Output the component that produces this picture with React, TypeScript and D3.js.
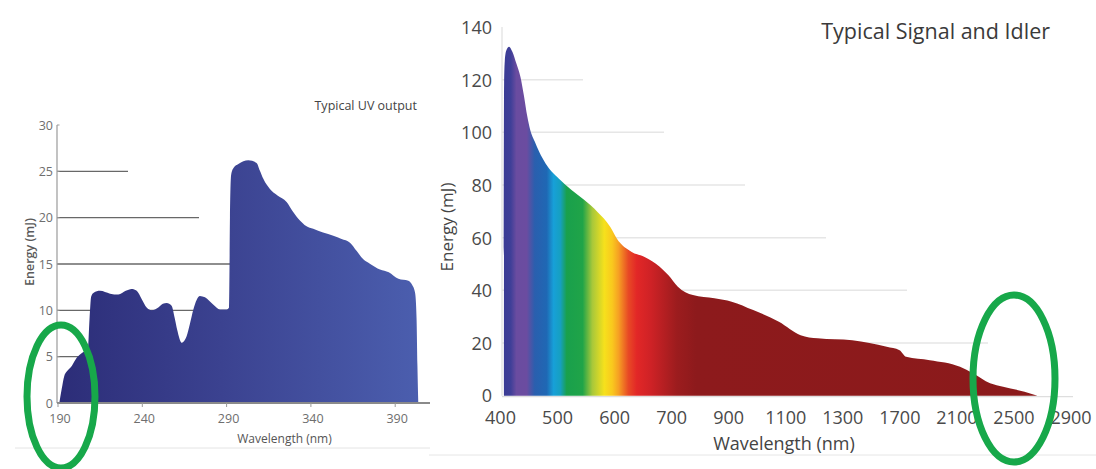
import React from 'react';
import * as d3 from 'd3';

// ---------- Left chart: Typical UV output ----------
const uvWavelength = [
  189.6, 191, 192.5, 194, 197, 200, 203, 206.5, 207.5, 208.5, 210, 213.7, 219.7, 224.6, 229, 232.5,
  235.5, 238.5, 241.4, 244.4, 248.3, 251, 253.3, 256.2, 258, 259.5, 262.2, 265.1, 267, 269.1, 273,
  276, 281, 284.9, 288.9, 290.3, 290.8, 291.5, 293, 295.8, 301.7, 306.6, 308.5, 310.6, 314.5, 319,
  324.4, 328, 332.3, 336, 340.2, 346, 352.1, 357, 362, 366, 369.9, 374, 379.8, 385, 390.7, 396.6,
  399, 400.6, 401.5, 402, 402.5,
];
const uvEnergy = [
  0, 1.5, 2.9, 3.4, 4.0, 4.9, 5.4, 5.8, 9, 11.5, 11.9, 12.1, 11.8, 11.7, 12.1, 12.3,
  12.1, 11.2, 10.3, 10.0, 10.3, 10.7, 10.8, 10.5, 9.2, 7.9, 6.5, 7.2, 8.5, 10.1, 11.55,
  11.4, 10.6, 10.1, 10.1, 10.3, 20, 24.6, 25.4, 25.8, 26.2, 25.9, 25.1, 24.2, 23.1, 22.4,
  21.7, 20.7, 19.7, 19.1, 18.8, 18.4, 18.05, 17.7, 17.3, 16.4, 15.5, 15.0, 14.4, 14.1, 13.4, 13.2,
  12.7, 11.9, 9, 4, 0,
];
const uvYTicks = [0, 5, 10, 15, 20, 25, 30];
const uvXTicks = [190, 240, 290, 340, 390];

// ---------- Right chart: Typical Signal and Idler ----------
const sigWavelength = [
  406, 406.3, 407.5, 410, 415, 421, 428, 435, 441, 447, 452, 460, 468, 479, 490, 502, 524.5, 547,
  570, 592.5, 603.8, 630, 652.6, 679, 694, 721.7, 774.6, 850, 910.5, 986, 1076, 1152, 1212, 1366.5,
  1608, 1698, 1744, 1910, 2122, 2212, 2333, 2424, 2574, 2665,
];
const sigEnergy = [
  0, 118, 127, 131, 132.5, 130.5, 126, 121, 114, 106, 101, 96.5, 92.5, 88.2, 85, 82.5, 78.1, 74.3,
  69.8, 64.1, 59.7, 54.6, 52.7, 49, 45.8, 41.4, 38.2, 37, 35.7, 32.5, 28.1, 23, 21.8, 21.1,
  18.6, 17.3, 14.8, 13.5, 11, 8.5, 4.7, 3.4, 1.5, 0,
];
const sigYTicks = [0, 20, 40, 60, 80, 100, 120, 140];
const sigXTicks = [400, 500, 600, 700, 900, 1100, 1300, 1700, 2100, 2500, 2900];

// spectrum colour stops (wavelength -> colour)
const spectrumWavelength = [404, 418, 428, 446, 460, 481, 493, 505, 516, 544, 561, 582, 596, 607, 624, 639, 663, 718, 786, 2700];
const spectrumColor = [
  '#3a3b94', '#3f3f98', '#6a4ca0', '#6b4ca0', '#2a5fae', '#1f68b4', '#17a0d8', '#16a0c0', '#19a04c',
  '#20a448', '#a8c83a', '#f6e11c', '#f9c81e', '#f6a023', '#e84a25', '#e22727', '#cf2226', '#9c1c1e',
  '#8d1a1c', '#8b1a1b',
];

const FONT = "'Open Sans', 'Noto Sans', sans-serif";

export default function App() {
  // left scales
  const xU = d3.scaleLinear().domain([190, 390]).range([60, 397.2]);
  const yU = d3.scaleLinear().domain([0, 30]).range([403, 125]);
  const uvArea = d3
    .area<number>()
    .x((_, i) => xU(uvWavelength[i]))
    .y0(yU(0))
    .y1((d) => yU(d))
    .curve(d3.curveMonotoneX);

  // right scales (piecewise, equally spaced labels)
  const xS = d3
    .scaleLinear()
    .domain(sigXTicks)
    .range(sigXTicks.map((_, i) => 500.5 + i * 57.05));
  const yS = d3.scaleLinear().domain([0, 140]).range([395.7, 27]);
  const sigArea = d3
    .area<number>()
    .x((_, i) => xS(sigWavelength[i]))
    .y0(yS(0))
    .y1((d) => yS(d))
    .curve(d3.curveMonotoneX);

  const gx0 = xS(spectrumWavelength[0]);
  const gx1 = xS(spectrumWavelength[spectrumWavelength.length - 1]);

  const uvAxisX = 57;
  const sigAxisX = 502;

  return (
    <svg
      width={1096}
      height={469}
      style={{ position: 'absolute', left: 0, top: 0, background: '#fff' }}
      fontFamily={FONT}
    >
      <defs>
        <linearGradient id="uvGrad" gradientUnits="userSpaceOnUse" x1={xU(190)} x2={xU(402)} y1={0} y2={0}>
          <stop offset="0" stopColor="#2c2d78" />
          <stop offset="0.45" stopColor="#3b4290" />
          <stop offset="1" stopColor="#4b5eae" />
        </linearGradient>
        <linearGradient id="specGrad" gradientUnits="userSpaceOnUse" x1={gx0} x2={gx1} y1={0} y2={0}>
          {spectrumWavelength.map((w, i) => (
            <stop key={i} offset={(xS(w) - gx0) / (gx1 - gx0)} stopColor={spectrumColor[i]} />
          ))}
        </linearGradient>
      </defs>

      {/* ================= LEFT CHART ================= */}
      {uvYTicks
        .filter((t) => t > 0 && t < 30)
        .map((t) => (
          <line
            key={'ug' + t}
            x1={uvAxisX}
            x2={uvAxisX + ((30 - t) / 5) * 71}
            y1={yU(t)}
            y2={yU(t)}
            stroke="#686868"
            strokeWidth={1.4}
          />
        ))}
      <path d={uvArea(uvEnergy) || ''} fill="url(#uvGrad)" />
      <line x1={uvAxisX} x2={uvAxisX} y1={yU(30)} y2={yU(0)} stroke="#9a9a9a" strokeWidth={1.2} />
      {uvYTicks.map((t) => (
        <g key={'uy' + t}>
          <line x1={uvAxisX} x2={uvAxisX + 2.5} y1={yU(t)} y2={yU(t)} stroke="#9a9a9a" strokeWidth={1} />
          <text x={53} y={yU(t)} textAnchor="end" dominantBaseline="central" fontSize={12.5} fill="#6e6e6e">
            {t}
          </text>
        </g>
      ))}
      <line x1={uvAxisX} x2={430} y1={yU(0)} y2={yU(0)} stroke="#8a8a8a" strokeWidth={2} />
      {uvXTicks.map((t) => (
        <g key={'ux' + t}>
          <line x1={xU(t) - 2} x2={xU(t) - 2} y1={yU(0)} y2={yU(0) + 4} stroke="#9a9a9a" strokeWidth={1} />
          <text x={xU(t)} y={418} textAnchor="middle" dominantBaseline="central" fontSize={12.5} fill="#6e6e6e">
            {t}
          </text>
        </g>
      ))}
      <text x={284.5} y={438} textAnchor="middle" dominantBaseline="central" fontSize={12} fill="#555">
        Wavelength (nm)
      </text>
      <text
        transform="translate(29,252) rotate(-90)"
        textAnchor="middle"
        dominantBaseline="central"
        fontSize={12.5}
        fontWeight={600}
        fill="#5a5a5a"
      >
        Energy (mJ)
      </text>
      <text x={417} y={105} textAnchor="end" dominantBaseline="central" fontSize={12.5} fill="#444">
        Typical UV output
      </text>
      <line x1={15} x2={430} y1={448} y2={448} stroke="#e4e4e4" strokeWidth={1} />

      {/* ================= RIGHT CHART ================= */}
      {sigYTicks
        .filter((t) => t > 0 && t < 140)
        .map((t) => (
          <line
            key={'sg' + t}
            x1={sigAxisX}
            x2={sigAxisX + ((140 - t) / 20) * 81}
            y1={yS(t)}
            y2={yS(t)}
            stroke="#e6e6e6"
            strokeWidth={1.5}
          />
        ))}
      <path d={sigArea(sigEnergy) || ''} fill="url(#specGrad)" />
      <line x1={sigAxisX} x2={sigAxisX} y1={yS(140)} y2={yS(0)} stroke="#e0e0e0" strokeWidth={1.2} />
      <line x1={sigAxisX} x2={1073} y1={yS(0) + 1} y2={yS(0) + 1} stroke="#dedede" strokeWidth={1.2} />
      {sigYTicks.map((t) => (
        <text
          key={'sy' + t}
          x={492}
          y={t === 0 ? yS(t) - 1 : yS(t)}
          textAnchor="end"
          dominantBaseline="central"
          fontSize={18}
          fill="#4a4a4a"
        >
          {t}
        </text>
      ))}
      {sigXTicks.map((t) => (
        <text
          key={'sx' + t}
          x={xS(t)}
          y={417}
          textAnchor="middle"
          dominantBaseline="central"
          fontSize={18}
          fill="#4a4a4a"
        >
          {t}
        </text>
      ))}
      <text x={784} y={443} textAnchor="middle" dominantBaseline="central" fontSize={18} fill="#444">
        Wavelength (nm)
      </text>
      <text
        transform="translate(446,227) rotate(-90)"
        textAnchor="middle"
        dominantBaseline="central"
        fontSize={17}
        fill="#444"
      >
        Energy (mJ)
      </text>
      <text x={1050} y={30} textAnchor="end" dominantBaseline="central" fontSize={21.5} fill="#3a3a3a">
        Typical Signal and Idler
      </text>
      <line x1={429} x2={1096} y1={455} y2={455} stroke="#e6e6e6" strokeWidth={1} />

      {/* ================= highlight ellipses ================= */}
      <ellipse cx={61} cy={396.5} rx={34} ry={71.5} fill="none" stroke="#17a84a" strokeWidth={7} />
      <ellipse cx={1014} cy={378.5} rx={41} ry={83.5} fill="none" stroke="#17a84a" strokeWidth={7} />
    </svg>
  );
}
